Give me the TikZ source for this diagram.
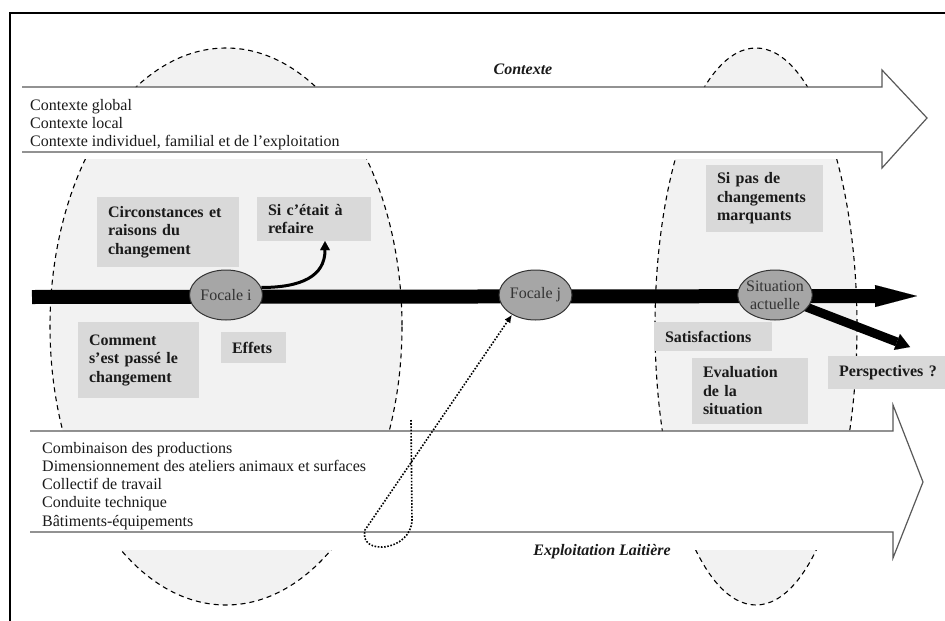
\documentclass[tikz,border=0pt]{standalone}
\usepackage{fontspec}
\setmainfont{Liberation Serif}
\usetikzlibrary{shapes.geometric,arrows.meta}
\definecolor{zonegray}{HTML}{F2F2F2}
\definecolor{boxgray}{HTML}{D9D9D9}
\definecolor{focgray}{HTML}{A6A6A6}
\definecolor{bandgray}{HTML}{595959}
\definecolor{inkgray}{HTML}{1A1A1A}
\begin{document}
\begin{tikzpicture}[x=1pt,y=-1pt,
  zone/.style={fill=zonegray,draw=black,dash pattern=on 5pt off 4pt,line width=1.1pt},
  band/.style={draw=bandgray,line width=1.2pt},
  box/.style={fill=boxgray,text=inkgray,font=\bfseries\fontsize{16}{18.5}\selectfont,align=left,inner xsep=11pt,inner ysep=2pt},
  focale/.style={ellipse,fill=focgray,draw=black!80,line width=1pt,minimum width=73pt,minimum height=50pt,inner xsep=-2.5pt,inner ysep=-0.5pt,text=black!80,font=\fontsize{16}{18}\selectfont,align=center},
  plain/.style={font=\fontsize{16}{18}\selectfont,text=inkgray,inner sep=0pt,anchor=base west},
  title/.style={font=\bfseries\itshape\fontsize{16}{18}\selectfont,text=inkgray,inner sep=0pt,anchor=base}]
\useasboundingbox (0,0) rectangle (945,621);
\fill[white] (0,0) rectangle (945,621);
\begin{scope}
\clip (0,0) rectangle (945,87) (0,159) rectangle (945,431) (0,550) rectangle (945,621);
\draw[zone] (226,326.5) ellipse [x radius=176,y radius=278.5];
\draw[zone] (756,326.5) ellipse [x radius=101,y radius=278.5];
\end{scope}
\draw[band] (22,87) -- (882,87) -- (882,70) -- (927,118) -- (882,168) -- (882,152) -- (22,152);
\draw[band] (30,431) -- (893,431) -- (893,405) -- (923,482) -- (893,558) -- (893,532) -- (30,532);
\foreach \t [count=\i] in {Contexte global,Contexte local,{Contexte individuel, familial et de l’exploitation}}
	\node[plain] (ctx\i) at (30,92+18*\i) {\t};
\foreach \t [count=\i] in {Combinaison des productions,Dimensionnement des ateliers animaux et surfaces,Collectif de travail,Conduite technique,Bâtiments-équipements}
	\node[plain] (expl\i) at (42,435+18.2*\i) {\t};
\node[title] (ctxlabel) at (523,74) {Contexte};
\node[title] (expllabel) at (602,555) {Exploitation Laitière};
\node[box,minimum width=142pt,minimum height=70pt,text width=120pt] (circ) at (168,232) {Circonstances et\\raisons du\\changement};
\node[box,minimum width=114pt,minimum height=44pt,text width=92pt] (refaire) at (314,219) {Si c’était à\\refaire};
\node[box,minimum width=121pt,minimum height=76pt,text width=99pt] (comment) at (138.5,360) {Comment\\s’est passé le\\changement};
\node[box,minimum width=65pt,minimum height=31pt,text width=43pt] (effets) at (253.5,347.5) {Effets};
\node[box,minimum width=117pt,minimum height=67pt,text width=95pt] (sipas) at (764.5,198.5) {Si pas de\\changements\\marquants};
\node[box,minimum width=118pt,minimum height=29pt,text width=96pt] (satisf) at (713,336.5) {Satisfactions};
\node[box,minimum width=116pt,minimum height=66pt,text width=94pt] (evalu) at (750,391) {Evaluation\\de la\\situation};
\node[box,minimum width=130pt,minimum height=33pt,text width=108pt] (persp) at (893,372.5) {Perspectives ?};
\coordinate (t0) at (32,297);
\coordinate (t1) at (917,296);
\coordinate (sac) at (775,295);
\coordinate (pe) at (910,347);
\draw[line width=14pt,-{Triangle[length=42pt,width=22pt,line width=0.01pt]}] (t0) -- (t1);
\draw[line width=9pt,-{Triangle[length=14pt,width=17pt,line width=0.01pt]}] (sac) -- (pe);
\node[focale] (fi) at (226,295) {Focale i};
\node[focale] (fj) at (535.5,295) {Focale j};
\node[focale] (sa) at (sac) {Situation\\actuelle};
\draw[line width=3pt,-{Triangle[length=9pt,width=10pt,line width=0.01pt]}] (fi.12) .. controls +(40,0) and +(0,35) .. ([xshift=11pt]refaire.south);
\coordinate (lp) at (411,420);
\draw[line width=1.6pt,dash pattern=on 1.6pt off 1.6pt,-{Latex[length=8pt,width=7pt]}] (lp) -- (412,520) .. controls (411,552) and (358,556) .. (365,530) -- (fj.-140);
\draw[line width=1.5pt] (10,621) -- (10,13) -- (945,13);
\end{tikzpicture}
\end{document}
